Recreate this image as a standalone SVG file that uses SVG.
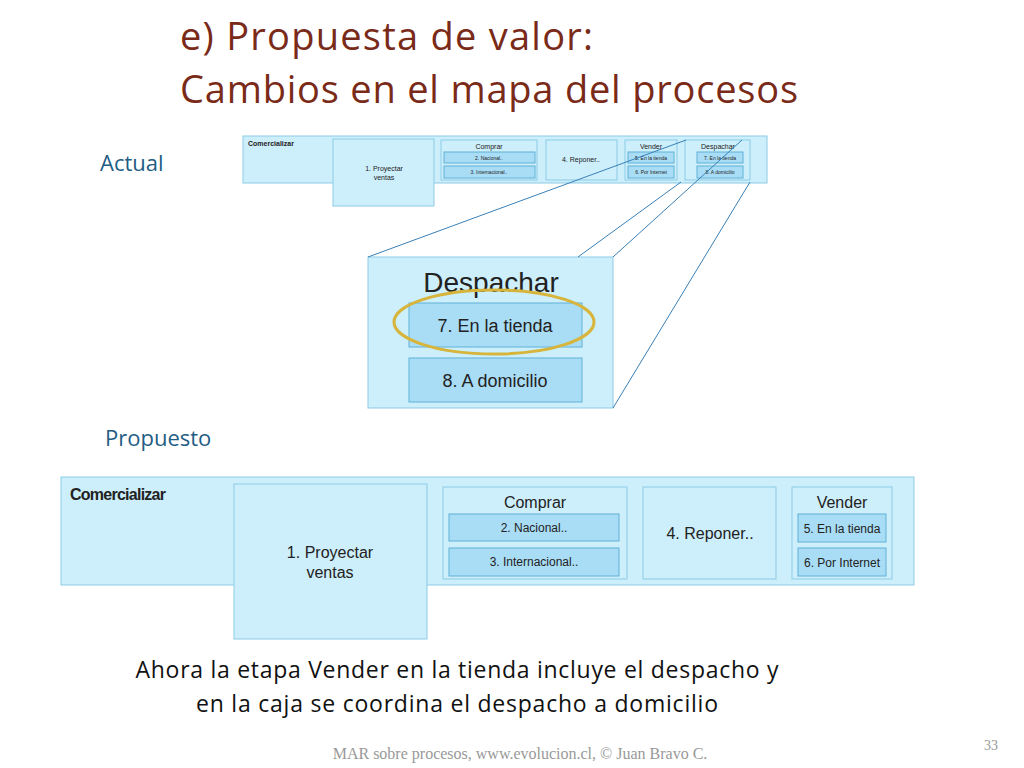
<svg xmlns="http://www.w3.org/2000/svg" width="1024" height="768" viewBox="0 0 1024 768">
<style>
.b{fill:#cdeefb;stroke:#8ccbe6;stroke-width:1}
.i{fill:#a9ddf6;stroke:#5eb0d6;stroke-width:1}
.t{font-family:"Liberation Sans",Arial,sans-serif;fill:#222;text-anchor:middle}
.g{font-family:"Liberation Sans",Arial,sans-serif;fill:#222}
.h{font-family:"Open Sans","DejaVu Sans",sans-serif}
</style>
<rect width="1024" height="768" fill="#fff"/>
<text x="180" y="50" class="h" font-size="38" fill="#7a2a18" textLength="413">e) Propuesta de valor:</text>
<text x="180" y="103" class="h" font-size="38" fill="#7a2a18" textLength="618">Cambios en el mapa del procesos</text>
<text x="100" y="171" class="h" font-size="22" fill="#1f5d85">Actual</text>
<text x="105" y="446" class="h" font-size="22" fill="#1f5d85">Propuesto</text>
<g id="top">
<rect class="b" x="243" y="136" width="524" height="47"/>
<text x="248" y="146" class="g" font-size="7" font-weight="bold">Comercializar</text>
<rect class="b" x="333" y="139" width="101" height="67"/>
<text x="384" y="171" class="t" font-size="7">1. Proyectar</text><text x="384" y="180" class="t" font-size="7">ventas</text>
<rect class="b" x="441" y="140" width="96" height="40"/>
<text x="489" y="149" class="t" font-size="7">Comprar</text>
<rect class="i" x="444" y="152" width="91" height="11"/><text x="489" y="160" class="t" font-size="5">2. Nacional..</text>
<rect class="i" x="444" y="166" width="91" height="12"/><text x="489" y="174" class="t" font-size="5">3. Internacional..</text>
<rect class="b" x="546" y="140" width="71" height="40"/>
<text x="581" y="162" class="t" font-size="7">4. Reponer..</text>
<rect class="b" x="625" y="140" width="52" height="40"/>
<text x="651" y="149" class="t" font-size="7">Vender</text>
<rect class="i" x="628" y="152" width="46" height="11"/><text x="651" y="160" class="t" font-size="5">5. En la tienda</text>
<rect class="i" x="628" y="166" width="46" height="12"/><text x="651" y="174" class="t" font-size="5">6. Por Internet</text>
<rect class="b" x="685" y="140" width="65" height="40"/>
<text x="718" y="149" class="t" font-size="7">Despachar</text>
<rect class="i" x="697" y="152" width="46" height="11"/><text x="720" y="160" class="t" font-size="5">7. En la tienda</text>
<rect class="i" x="697" y="166" width="46" height="12"/><text x="720" y="174" class="t" font-size="5">8. A domicilio</text>
</g>
<g id="zoom">
<rect class="b" x="368" y="257" width="245" height="151"/>
<text x="491" y="292" class="t" font-size="28">Despachar</text>
<rect class="i" x="409" y="303" width="173" height="44"/><text x="495" y="332" class="t" font-size="18">7. En la tienda</text>
<rect class="i" x="409" y="358" width="173" height="44"/><text x="495" y="387" class="t" font-size="18">8. A domicilio</text>
<ellipse cx="494" cy="322" rx="100" ry="32" fill="none" stroke="#d7b53c" stroke-width="3"/>
</g>
<g id="connectors" stroke="#3a80b6" stroke-width="1" fill="none">
<line x1="686" y1="140" x2="368" y2="257"/>
<line x1="681" y1="182" x2="578" y2="257"/>
<line x1="742" y1="140" x2="613" y2="257"/>
<line x1="750" y1="182" x2="613" y2="408"/>
</g>
<g id="bottom">
<rect class="b" x="61" y="477" width="853" height="108"/>
<text x="70" y="500" class="g" font-size="16" font-weight="bold" textLength="96">Comercializar</text>
<rect class="b" x="234" y="484" width="193" height="155"/>
<text x="330" y="558" class="t" font-size="16">1. Proyectar</text><text x="330" y="578" class="t" font-size="16">ventas</text>
<rect class="b" x="443" y="487" width="184" height="92"/>
<text x="535" y="508" class="t" font-size="16">Comprar</text>
<rect class="i" x="449" y="514" width="170" height="27"/><text x="534" y="532" class="t" font-size="12">2. Nacional..</text>
<rect class="i" x="449" y="548" width="170" height="28"/><text x="534" y="566" class="t" font-size="12">3. Internacional..</text>
<rect class="b" x="643" y="487" width="133" height="92"/>
<text x="710" y="539" class="t" font-size="16">4. Reponer..</text>
<rect class="b" x="792" y="487" width="100" height="92"/>
<text x="842" y="508" class="t" font-size="16">Vender</text>
<rect class="i" x="798" y="514" width="88" height="28"/><text x="842" y="533" class="t" font-size="12">5. En la tienda</text>
<rect class="i" x="798" y="548" width="88" height="28"/><text x="842" y="567" class="t" font-size="12">6. Por Internet</text>
</g>
<text x="457" y="678" class="h" font-size="23" fill="#111" text-anchor="middle" textLength="643">Ahora la etapa Vender en la tienda incluye el despacho y</text>
<text x="457" y="712" class="h" font-size="23" fill="#111" text-anchor="middle" textLength="522">en la caja se coordina el despacho a domicilio</text>
<text x="520" y="759" font-family="Liberation Serif,serif" font-size="16" fill="#999" text-anchor="middle">MAR sobre procesos, www.evolucion.cl, © Juan Bravo C.</text>
<text x="998" y="750" font-family="Liberation Serif,serif" font-size="14" fill="#999" text-anchor="end">33</text>
</svg>
